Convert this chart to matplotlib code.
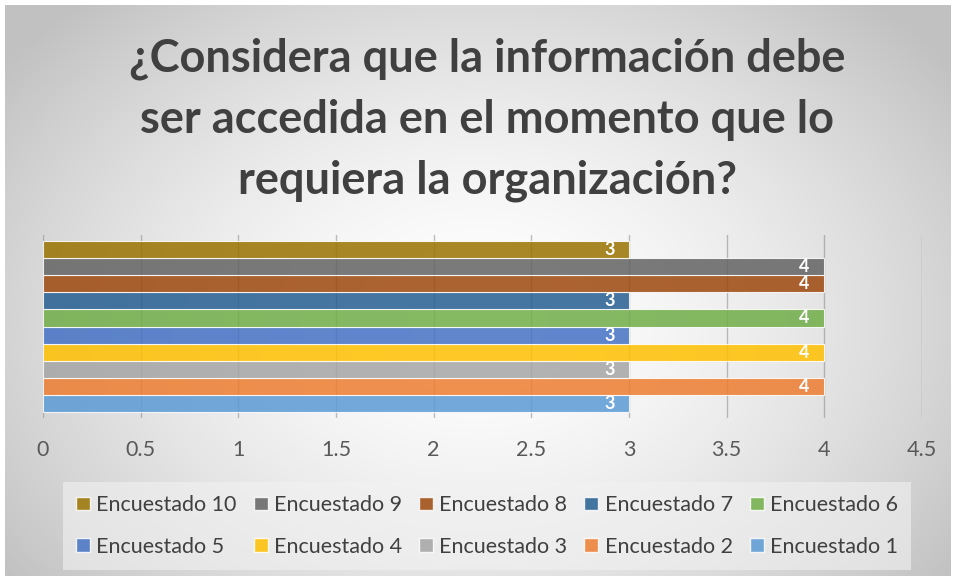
import numpy as np
import matplotlib
matplotlib.use("Agg")
import matplotlib.pyplot as plt
from matplotlib.patches import Patch

plt.rcParams['font.family'] = ['Lato', 'DejaVu Sans']

# datos
series = ["Encuestado 1", "Encuestado 2", "Encuestado 3", "Encuestado 4", "Encuestado 5",
          "Encuestado 6", "Encuestado 7", "Encuestado 8", "Encuestado 9", "Encuestado 10"]
values = [3, 4, 3, 4, 3, 4, 3, 4, 4, 3]
colors = ["#5B9BD5", "#ED7D31", "#A5A5A5", "#FFC000", "#4472C4",
          "#70AD47", "#255E91", "#9E480E", "#636363", "#997300"]
xticks = [0, 0.5, 1, 1.5, 2, 2.5, 3, 3.5, 4, 4.5]
title = "¿Considera que la información debe\nser accedida en el momento que lo\nrequiera la organización?"

W, H = 956, 579
fig = plt.figure(figsize=(W / 100, H / 100), dpi=100)

# fondo con degradado radial
bg = fig.add_axes([5 / W, 3 / H, 945 / W, 571 / H])
yy, xx = np.mgrid[0:1:300j, 0:1:500j]
r = np.sqrt(((xx - 0.5) / 0.62) ** 2 + ((yy - 0.55) / 0.75) ** 2)
shade = 1.0 - 0.24 * np.clip(r, 0, 1) ** 1.6
bg.imshow(np.dstack([shade] * 3), aspect='auto', extent=[0, 1, 0, 1], interpolation='bicubic')
bg.set_axis_off()

fig.text(487 / W, 1 - 120 / H, title, ha='center', va='center', fontsize=32.5, fontweight='bold',
         color='#404040', linespacing=1.55)

ax = fig.add_axes([43 / W, 1 - 418 / H, 879 / W, 183 / H])
ax.patch.set_alpha(0)
n = len(series)
h = 0.93 / n
pos = [(i - (n - 1) / 2) * h for i in range(n)]
for i in range(n):
    b = ax.barh(pos[i], values[i], height=h, color=colors[i], alpha=0.85,
                edgecolor='white', linewidth=0.8, label=series[i], zorder=2)
    ax.bar_label(b, labels=[str(values[i])], padding=-18, color='white',
                 fontsize=13, fontweight='bold')

ax.set_xlim(0, 4.5)
ax.set_ylim(-0.5, 0.5)
ax.set_xticks(xticks)
ax.set_xticklabels([f"{t:g}" for t in xticks], fontsize=15.5, color='#595959')
ax.set_yticks([])
ax.tick_params(axis='x', length=0, pad=16)
ax.grid(axis='x', color='#7f7f7f', linewidth=1, alpha=0.5, zorder=3)
for s in ax.spines.values():
    s.set_visible(False)

order = [9, 4, 8, 3, 7, 2, 6, 1, 5, 0]
handles = [Patch(facecolor=colors[i], alpha=0.85, edgecolor='white', label=series[i]) for i in order]
leg = fig.legend(handles=handles, loc='center', bbox_to_anchor=(487 / W, 1 - 526 / H), ncol=5,
                 frameon=True, fontsize=15.5, labelcolor='#404040', handlelength=0.65,
                 handleheight=0.6, handletextpad=0.28, columnspacing=0.8, labelspacing=1.0,
                 borderpad=0.6, borderaxespad=0)
leg.get_frame().set_facecolor('#f2f2f2')
leg.get_frame().set_alpha(0.6)
leg.get_frame().set_edgecolor('none')
leg.get_frame().set_boxstyle('square', pad=0)

fig.savefig("out.png", dpi=100)
